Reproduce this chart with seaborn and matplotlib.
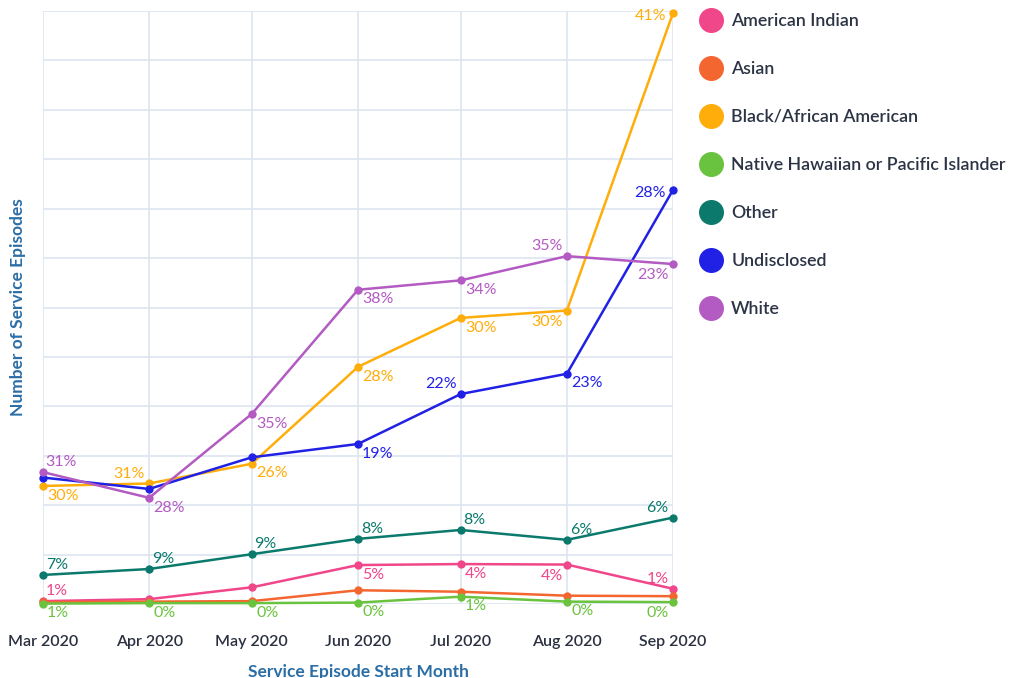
import matplotlib
matplotlib.use("Agg")
import matplotlib.pyplot as plt
import seaborn as sns
import pandas as pd
import numpy as np
from matplotlib.lines import Line2D

sns.set_theme(style="white")
plt.rcParams['font.family'] = ['Lato', 'DejaVu Sans']

# ---------------- data ----------------
months = ["2020-03-01", "2020-04-01", "2020-05-01", "2020-06-01",
          "2020-07-01", "2020-08-01", "2020-09-01"]
month_labels = ["Mar 2020", "Apr 2020", "May 2020", "Jun 2020",
                "Jul 2020", "Aug 2020", "Sep 2020"]
groups = ["American Indian", "Asian", "Black/African American",
          "Native Hawaiian or Pacific Islander", "Other", "Undisclosed", "White"]

american_indian = [0.6, 1.0, 3.4, 7.9, 8.1, 8.0, 3.1]
asian = [0.4, 0.5, 0.6, 2.8, 2.5, 1.7, 1.6]
black = [23.9, 24.4, 28.4, 48.0, 57.9, 59.4, 119.6]
native_hawaiian = [0.1, 0.2, 0.2, 0.3, 1.5, 0.5, 0.4]
other = [5.9, 7.1, 10.1, 13.2, 15.0, 13.0, 17.5]
undisclosed = [25.6, 23.3, 29.7, 32.4, 42.5, 46.6, 83.8]
white = [26.7, 21.5, 38.5, 63.6, 65.5, 70.4, 68.8]

pct_american_indian = ["1%", None, None, "5%", "4%", "4%", "1%"]
pct_asian = [None] * 7
pct_black = ["30%", "31%", "26%", "28%", "30%", "30%", "41%"]
pct_native_hawaiian = ["1%", "0%", "0%", "0%", "1%", "0%", "0%"]
pct_other = ["7%", "9%", "9%", "8%", "8%", "6%", "6%"]
pct_undisclosed = [None, None, None, "19%", "22%", "23%", "28%"]
pct_white = ["31%", "28%", "35%", "38%", "34%", "35%", "23%"]

series = [american_indian, asian, black, native_hawaiian, other, undisclosed, white]
pcts = [pct_american_indian, pct_asian, pct_black, pct_native_hawaiian,
        pct_other, pct_undisclosed, pct_white]

# ---------------- style ----------------
colors = ["#f0468a", "#f46630", "#ffad0a", "#6ac33e", "#0b7a6d", "#2121e6", "#b35bc2"]
palette = dict(zip(groups, colors))
label_pos = [
    ["ar", None, None, "br", "br", "bl", "al"],
    [None] * 7,
    ["br", "al", "br", "br", "br", "bl", "l"],
    ["br", "br", "br", "br", "br", "br", "bl"],
    ["ar", "ar", "ar", "ar", "ar", "ar", "al"],
    [None, None, None, "br", "al", "br", "l"],
    ["ar", "br", "br", "br", "br", "al", "bl"],
]
offsets = {"ar": ((2, 7), "left"), "br": ((3, -7), "left"),
           "al": ((-3, 7), "right"), "bl": ((-3, -8), "right"),
           "l": ((-5, -2), "right")}

dates = pd.to_datetime(months)
df = pd.DataFrame({
    "month": np.tile(dates, len(groups)),
    "group": np.repeat(groups, len(dates)),
    "episodes": np.concatenate(series),
})

fig, ax = plt.subplots(figsize=(10.11, 6.78), dpi=100)
fig.subplots_adjust(left=0.0425, right=0.6657, top=0.9838, bottom=0.109)

sns.lineplot(data=df, x="month", y="episodes", hue="group", hue_order=groups,
             palette=palette, marker="o", markersize=6, markeredgewidth=0,
             linewidth=1.8, ax=ax, legend=False)
for ln in ax.lines:
    ln.set_clip_on(False)

ax.set_xlim(dates[0], dates[-1])
ax.set_ylim(0, 120)
ax.set_yticks(np.arange(0, 121, 10))
ax.set_yticklabels([])
ax.set_xticks(dates)
ax.set_xticklabels(month_labels, fontsize=11.5, fontweight="semibold", color="#2b3040")
ax.grid(True, color="#dde5f0", linewidth=1.2)
ax.set_axisbelow(True)
for s in ax.spines.values():
    s.set_visible(False)
ax.tick_params(length=0)
ax.tick_params(axis="x", pad=22)

ax.set_xlabel("Service Episode Start Month", fontsize=12.5, fontweight="bold",
              color="#2b6ea6", labelpad=11)
ax.set_ylabel("Number of Service Episodes", fontsize=12.5, fontweight="bold",
              color="#2b6ea6", labelpad=9)

for vals, labs, poss, col in zip(series, pcts, label_pos, colors):
    for d, v, lab, p in zip(dates, vals, labs, poss):
        if lab is None:
            continue
        (dx, dy), ha = offsets[p]
        ax.annotate(lab, (d, v), xytext=(dx, dy), textcoords="offset points",
                    ha=ha, va="center", color=col, fontsize=11.5, annotation_clip=False)

handles = [Line2D([], [], marker="o", linestyle="", color=c, markersize=18,
                  markeredgewidth=0) for c in colors]
fig.legend(handles, groups, loc="upper left",
           bbox_to_anchor=(693 / 1011, 1 - 13 / 678), bbox_transform=fig.transFigure,
           frameon=False, labelspacing=1.8, handletextpad=0.15,
           borderaxespad=0, borderpad=0, labelcolor="#2b3345",
           prop={"weight": "semibold", "size": 12.8})

fig.savefig("out.png", dpi=100)
